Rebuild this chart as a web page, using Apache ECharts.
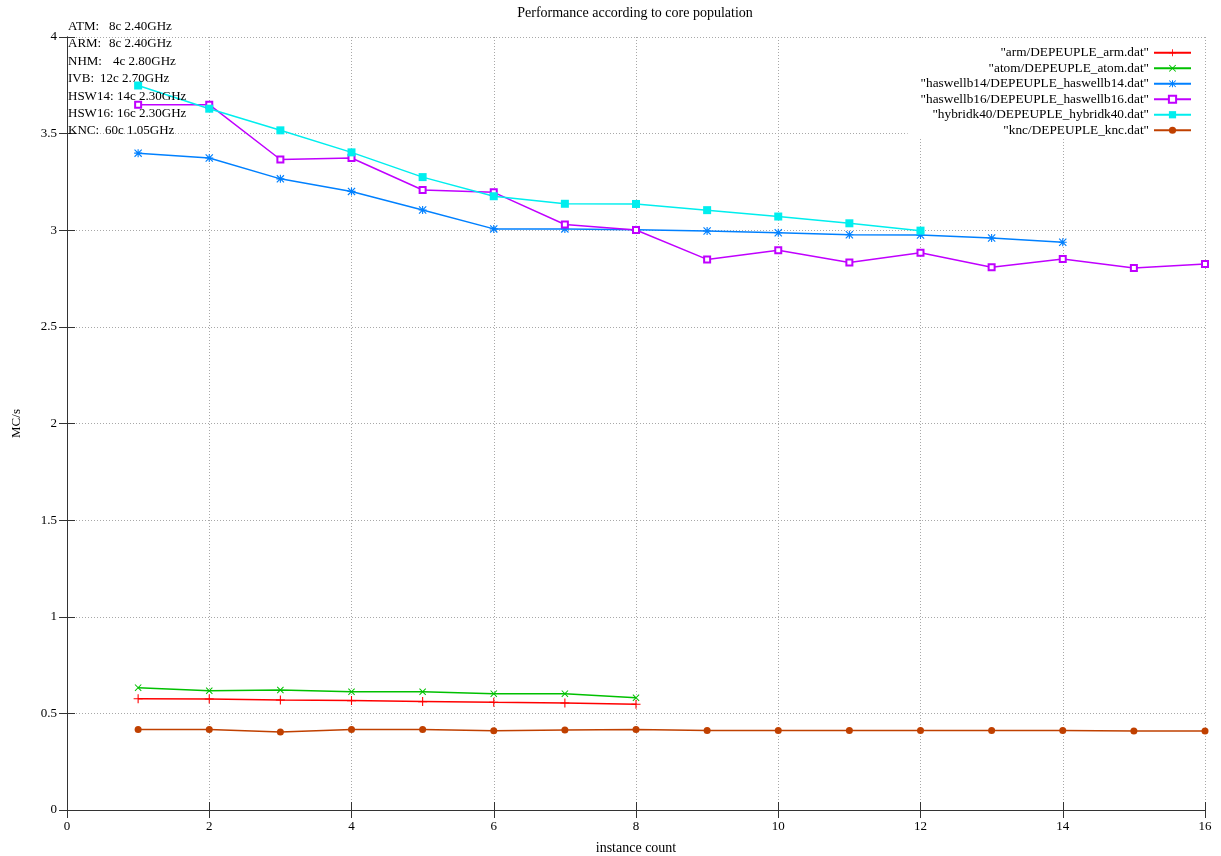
<!DOCTYPE html>
<html>
<head>
<meta charset="utf-8">
<title>Performance according to core population</title>
<script src="https://cdn.jsdelivr.net/npm/echarts@6/dist/echarts.min.js"></script>
<style>
  html, body { margin: 0; padding: 0; background: #fff; }
  #chart { width: 1221px; height: 856px; }
</style>
</head>
<body>
<div id="chart"></div>
<script>
// instance count on the x axis
const instances = [1, 2, 3, 4, 5, 6, 7, 8, 9, 10, 11, 12, 13, 14, 15, 16];

// MC/s per run
const arm = [0.576, 0.574, 0.569, 0.566, 0.561, 0.557, 0.554, 0.547];
const atom = [0.633, 0.617, 0.621, 0.612, 0.612, 0.602, 0.602, 0.581];
const haswellb14 = [3.399, 3.374, 3.266, 3.201, 3.105, 3.007, 3.007, 3.003, 2.996, 2.987, 2.977, 2.975, 2.960, 2.938];
const haswellb16 = [3.650, 3.650, 3.366, 3.374, 3.208, 3.196, 3.030, 3.001, 2.849, 2.896, 2.833, 2.883, 2.809, 2.851, 2.805, 2.825];
const hybridk40 = [3.749, 3.629, 3.517, 3.403, 3.275, 3.176, 3.137, 3.136, 3.104, 3.071, 3.036, 2.998];
const knc = [0.417, 0.417, 0.404, 0.417, 0.417, 0.410, 0.414, 0.417, 0.412, 0.412, 0.412, 0.412, 0.412, 0.412, 0.409, 0.409];

const seriesNames = [
  '"arm/DEPEUPLE_arm.dat"',
  '"atom/DEPEUPLE_atom.dat"',
  '"haswellb14/DEPEUPLE_haswellb14.dat"',
  '"haswellb16/DEPEUPLE_haswellb16.dat"',
  '"hybridk40/DEPEUPLE_hybridk40.dat"',
  '"knc/DEPEUPLE_knc.dat"'
];

// machine notes printed top-left
const noteNames = ['ATM:', 'ARM:', 'NHM:', 'IVB:', 'HSW14:', 'HSW16:', 'KNC:'];
const noteSpecs = ['8c 2.40GHz', '8c 2.40GHz', '4c 2.80GHz', '12c 2.70GHz', '14c 2.30GHz', '16c 2.30GHz', '60c 1.05GHz'];

const FONT = '"Liberation Serif", "DejaVu Serif", serif';
// where the spec column starts on each note line
const specX = [109, 109, 113, 100, 117, 117, 105];

// marker shapes like gnuplot's point types
const PLUS = 'path://M4.4,0H5.6V4.4H10V5.6H5.6V10H4.4V5.6H0V4.4H4.4Z';
const CROSS = 'path://M0,1L1,0L10,9L9,10ZM9,0L10,1L1,10L0,9Z';
const STAR = 'path://M0,1L1,0L10,9L9,10ZM9,0L10,1L1,10L0,9ZM4.3,0H5.7V10H4.3ZM0,4.3H10V5.7H0Z';

function pairs(values) {
  return values.map((v, i) => [instances[i], v]);
}

function lineSeries(name, values, color, symbol, size, border) {
  return {
    name: name,
    type: 'line',
    data: pairs(values),
    symbol: symbol,
    symbolSize: size,
    lineStyle: { color: color, width: 1.5 },
    itemStyle: { color: color, borderColor: color, borderWidth: border || 0 },
    emphasis: { disabled: true },
    animation: false
  };
}

function noteGraphics() {
  const out = [];
  noteNames.forEach((n, i) => {
    const y = 26.5 + i * 17.4;
    out.push({ type: 'text', x: 68, y: y, z: 20,
      style: { text: n, font: '13px ' + FONT, fill: '#000', verticalAlign: 'middle' } });
    out.push({ type: 'text', x: specX[i], y: y, z: 20,
      style: { text: noteSpecs[i], font: '13px ' + FONT, fill: '#000', verticalAlign: 'middle' } });
  });
  return out;
}

const chart = echarts.init(document.getElementById('chart'));

const option = {
  backgroundColor: '#fff',
  animation: false,
  title: {
    text: 'Performance according to core population',
    left: 630,
    top: 1,
    textAlign: 'center',
    textStyle: { fontFamily: FONT, fontSize: 14, fontWeight: 'normal', color: '#000' }
  },
  grid: { left: 67, right: 16, top: 37, bottom: 46, outerBoundsMode: 'none', containLabel: false },
  legend: {
    orient: 'vertical',
    right: 16,
    top: 38,
    align: 'right',
    itemWidth: 37,
    itemHeight: 9,
    itemGap: 0,
    padding: [7, 13, 0, 13],
    backgroundColor: '#fff',
    z: 5,
    textStyle: { fontFamily: FONT, fontSize: 13.3, color: '#000', lineHeight: 15.5 },
    data: seriesNames
  },
  xAxis: [
    {
      type: 'value', min: 0, max: 16, interval: 2,
      name: 'instance count', nameLocation: 'middle', nameGap: 31,
      nameTextStyle: { fontFamily: FONT, fontSize: 14, color: '#000' },
      axisLine: { lineStyle: { color: '#333', width: 1 } },
      axisTick: { inside: true, length: 8, lineStyle: { color: '#333' } },
      axisLabel: { fontFamily: FONT, fontSize: 13, color: '#000', margin: 10 },
      splitLine: { show: true, lineStyle: { color: '#a8a8a8', type: [1, 2], width: 1 } }
    },
    {
      type: 'value', position: 'top', min: 0, max: 16, interval: 2, z: 10,
      axisLine: { show: true, lineStyle: { color: '#333', width: 1 } },
      axisTick: { show: true, inside: true, length: 8, lineStyle: { color: '#333' } },
      axisLabel: { show: false },
      splitLine: { show: false }
    }
  ],
  yAxis: [
    {
      type: 'value', min: 0, max: 4, interval: 0.5,
      name: 'MC/s', nameLocation: 'middle', nameGap: 44, nameRotate: 90,
      nameTextStyle: { fontFamily: FONT, fontSize: 13, color: '#000' },
      axisLine: { show: true, lineStyle: { color: '#333', width: 1 } },
      axisTick: { show: true, inside: true, length: 8, lineStyle: { color: '#333' } },
      axisLabel: { fontFamily: FONT, fontSize: 13, color: '#000', margin: 10 },
      splitLine: { show: true, lineStyle: { color: '#a8a8a8', type: [1, 2], width: 1 } }
    },
    {
      type: 'value', position: 'right', min: 0, max: 4, interval: 0.5, z: 10,
      axisLine: { show: true, lineStyle: { color: '#333', width: 1 } },
      axisTick: { show: true, inside: true, length: 8, lineStyle: { color: '#333' } },
      axisLabel: { show: false },
      splitLine: { show: false }
    }
  ],
  graphic: noteGraphics(),
  series: [
    lineSeries(seriesNames[0], arm, '#ff0000', PLUS, 9),
    lineSeries(seriesNames[1], atom, '#00c000', CROSS, 7),
    lineSeries(seriesNames[2], haswellb14, '#0080ff', STAR, 8),
    lineSeries(seriesNames[3], haswellb16, '#c000ff', 'emptyRect', 6, 1.2),
    lineSeries(seriesNames[4], hybridk40, '#00eeee', 'rect', 8),
    lineSeries(seriesNames[5], knc, '#c04000', 'circle', 7)
  ]
};

chart.setOption(option);
</script>
</body>
</html>
